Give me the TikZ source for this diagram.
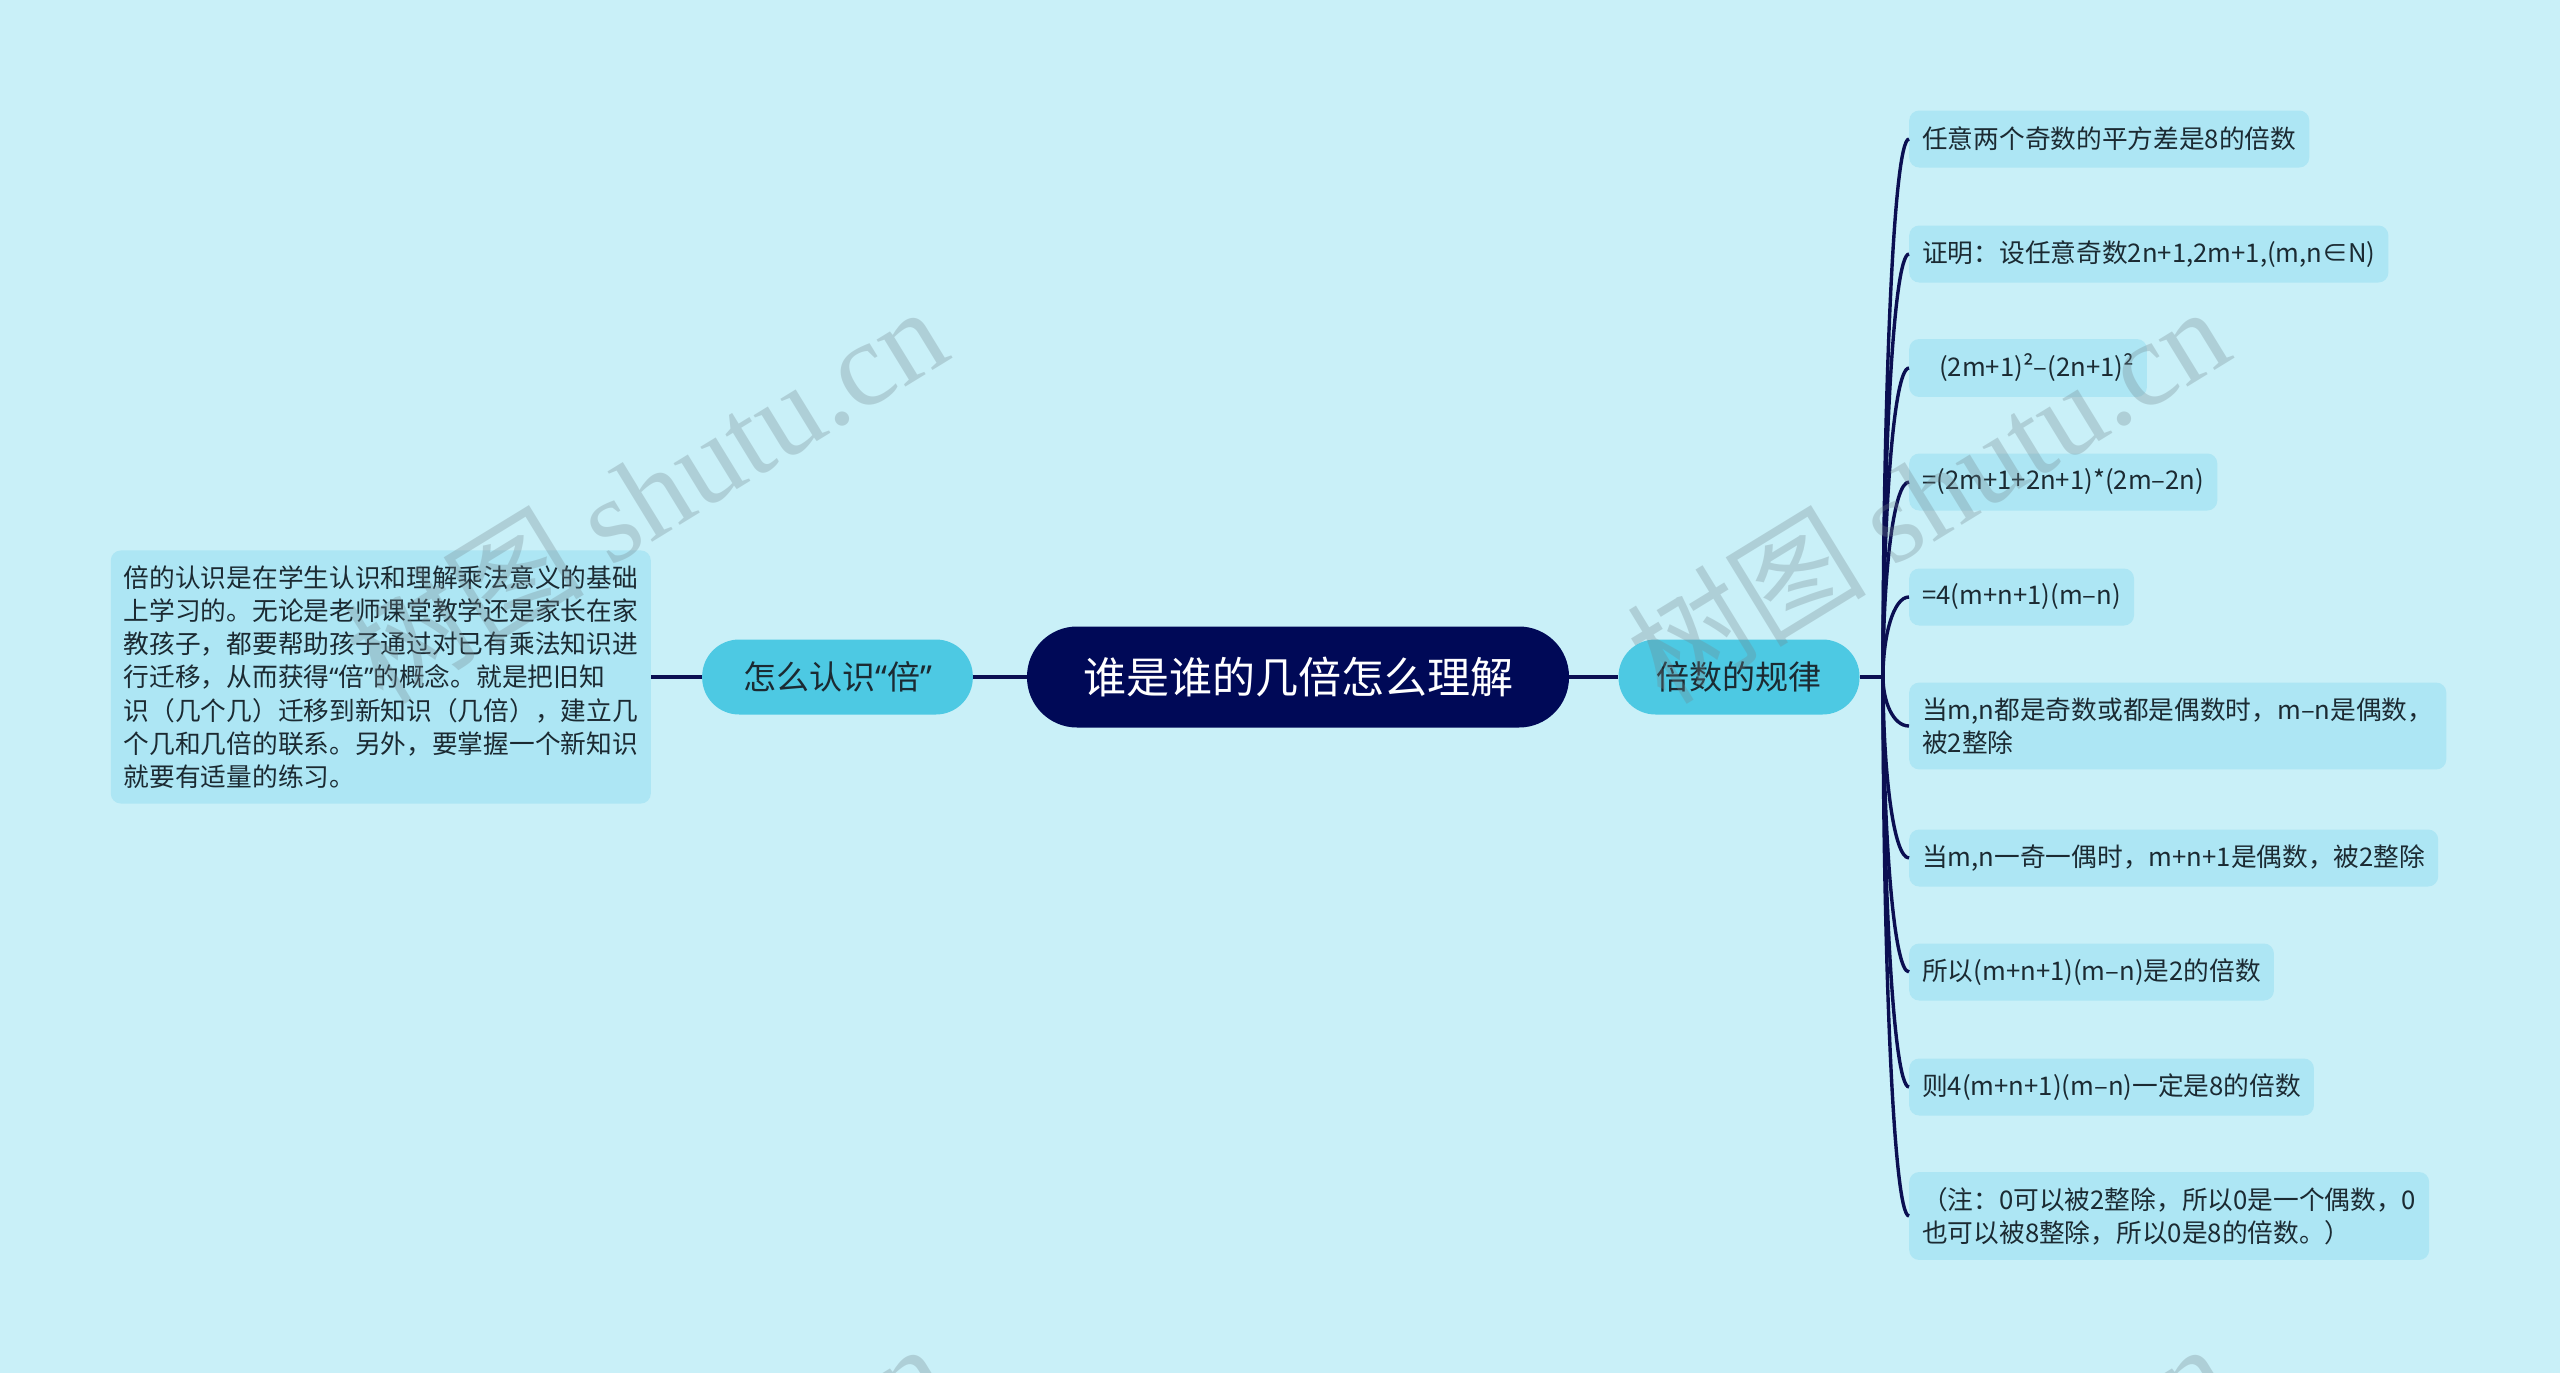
\documentclass[tikz,border=0pt]{standalone}
\usepackage{fontspec}
\setmainfont{Noto Sans CJK SC}
\newfontfamily\wmserif{Liberation Serif}
\newfontfamily\latinq{Noto Sans}
\newcommand{\myoq}{{\latinq “}}
\newcommand{\mycq}{{\latinq ”}}
\usetikzlibrary{calc}
\definecolor{bgc}{HTML}{C9F0F8}
\definecolor{leafc}{HTML}{ADE6F4}
\definecolor{lonec}{HTML}{4DC9E3}
\definecolor{rootc}{HTML}{000957}
\definecolor{linec}{HTML}{0B0F52}
\definecolor{txtc}{HTML}{1B2A32}
\definecolor{wmc}{HTML}{72858C}
\tikzset{
  conn/.style={draw=linec, line width=3.4pt},
  leafbox/.style={fill=leafc, rounded corners=10pt, inner xsep=13pt, inner ysep=15pt,
    minimum height=57pt, anchor=west, text=txtc, align=left,
    font=\fontsize{25.7}{33.2}\selectfont},
  onebox/.style={fill=lonec, rounded corners=37pt, minimum height=75pt, inner xsep=38pt,
    text=txtc, font=\fontsize{33}{40}\selectfont},
  rootbox/.style={fill=rootc, rounded corners=50pt, minimum height=101pt, inner xsep=56pt,
    text=white, font=\fontsize{43}{50}\selectfont},
  wmark/.style={rotate=31.5, text=wmc, opacity=0.3, font=\fontsize{120}{130}\selectfont}
}
\begin{document}
\begin{tikzpicture}[x=1pt,y=-1pt]
\useasboundingbox (0,0) rectangle (2560,1373);
\fill[bgc] (0,0) rectangle (2560,1373);

\node[rootbox] (root) at (1298,677) {谁是谁的几倍怎么理解};
\node[onebox, inner xsep=41pt] (lft) at (837.5,677) {怎么认识\myoq 倍\mycq};
\node[onebox] (rgt) at (1739,677) {倍数的规律};

\node[leafbox, anchor=east] (lbox) at (651,677) {倍的认识是在学生认识和理解乘法意义的基础\\
上学习的。无论是老师课堂教学还是家长在家\\
教孩子，都要帮助孩子通过对已有乘法知识进\\
行迁移，从而获得\myoq 倍\mycq 的概念。就是把旧知\\
识（几个几）迁移到新知识（几倍），建立几\\
个几和几倍的联系。另外，要掌握一个新知识\\
就要有适量的练习。};

\node[leafbox] (l1) at (1909,139) {任意两个奇数的平方差是8的倍数};
\node[leafbox] (l2) at (1909,254) {证明：设任意奇数2n+1,2m+1,(m,n∈N)};
\node[leafbox] (l3) at (1909,368) {\hspace{17pt}(2m+1)²–(2n+1)²};
\node[leafbox] (l4) at (1909,482) {=(2m+1+2n+1)*(2m–2n)};
\node[leafbox] (l5) at (1909,597) {=4(m+n+1)(m–n)};
\node[leafbox] (l6) at (1909,726) {当m,n都是奇数或都是偶数时，m–n是偶数，\\被2整除};
\node[leafbox] (l7) at (1909,858) {当m,n一奇一偶时，m+n+1是偶数，被2整除};
\node[leafbox] (l8) at (1909,972) {所以(m+n+1)(m–n)是2的倍数};
\node[leafbox] (l9) at (1909,1087) {则4(m+n+1)(m–n)一定是8的倍数};
\node[leafbox] (l10) at (1909,1216) {（注：0可以被2整除，所以0是一个偶数，0\\也可以被8整除，所以0是8的倍数。）};

\draw[conn] (root.west) -- (lft.east);
\draw[conn] (lft.west) -- (lbox.east);
\draw[conn] (root.east) -- (rgt.west);
\coordinate (br) at (1883,677);
\draw[conn] (rgt.east) -- (br);
\foreach \l in {l1,l2,l3,l4,l5,l6,l7,l8,l9,l10}{
  \draw[conn] (br) .. controls ($(br)!0.5!(br |- \l.west)$) and ($(\l.west)+(-16,0)$) .. (\l.west);
}

\begin{scope}
\clip (0,0) rectangle (2560,1373);
\node[wmark] (wm1) at (645,493) {树图 {\wmserif shutu.cn}};
\node[wmark] (wm2) at (1927,493) {树图 {\wmserif shutu.cn}};
\node[wmark] (wm3) at (645,1530) {树图 {\wmserif shutu.cn}};
\node[wmark] (wm4) at (1927,1530) {树图 {\wmserif shutu.cn}};
\end{scope}
\end{tikzpicture}
\end{document}
